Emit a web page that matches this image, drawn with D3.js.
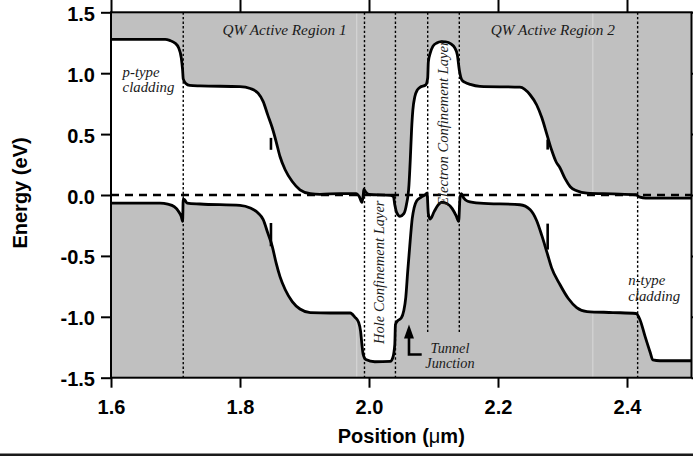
<!DOCTYPE html>
<html>
<head>
<meta charset="utf-8">
<script src="https://cdn.jsdelivr.net/npm/d3@7"></script>
<style>
  html, body { margin: 0; padding: 0; background: #fff; }
  svg { display: block; }
</style>
</head>
<body>
<script>
// Conduction band edge: position (µm) and energy (eV)
const cbPosition = [1.600,1.684,1.691,1.699,1.705,1.709,1.711,1.712,1.716,1.722,1.738,1.800,1.816,1.828,1.836,1.843,1.850,1.856,1.862,1.870,1.881,1.893,1.909,1.924,1.955,1.980,1.985,1.989,1.991,1.992,1.995,2.000,2.033,2.038,2.040,2.043,2.048,2.054,2.058,2.062,2.064,2.066,2.068,2.071,2.075,2.079,2.088,2.091,2.092,2.095,2.099,2.105,2.112,2.119,2.127,2.133,2.137,2.140,2.144,2.149,2.157,2.172,2.234,2.250,2.260,2.268,2.276,2.283,2.290,2.296,2.304,2.312,2.322,2.338,2.378,2.414,2.420,2.429,2.500];
const cbEnergy = [1.277,1.277,1.269,1.248,1.207,1.125,1.027,0.953,0.916,0.900,0.896,0.890,0.874,0.836,0.767,0.658,0.552,0.439,0.316,0.207,0.111,0.043,0.011,0.005,0.012,0.012,-0.014,-0.061,-0.006,0.049,0.023,0.004,-0.002,-0.014,-0.080,-0.145,-0.175,-0.153,-0.080,0.084,0.289,0.535,0.699,0.806,0.863,0.884,0.904,0.961,1.093,1.166,1.220,1.248,1.259,1.257,1.240,1.207,1.150,1.027,0.945,0.925,0.908,0.892,0.885,0.821,0.739,0.634,0.494,0.371,0.273,0.224,0.134,0.068,0.035,0.015,0.009,0.002,-0.018,-0.025,-0.025];

// Valence band edge: position (µm) and energy (eV)
const vbPosition = [1.600,1.676,1.688,1.698,1.704,1.709,1.711,1.712,1.714,1.718,1.738,1.800,1.816,1.828,1.836,1.843,1.850,1.856,1.862,1.870,1.881,1.893,1.909,1.940,1.971,1.978,1.984,1.987,1.989,1.991,1.995,2.009,2.033,2.037,2.040,2.041,2.045,2.050,2.054,2.057,2.060,2.064,2.067,2.070,2.074,2.081,2.087,2.090,2.092,2.095,2.101,2.107,2.113,2.121,2.129,2.135,2.139,2.141,2.143,2.147,2.153,2.172,2.234,2.250,2.260,2.268,2.276,2.283,2.296,2.309,2.322,2.338,2.378,2.414,2.420,2.428,2.436,2.440,2.451,2.500];
const vbEnergy = [-0.066,-0.067,-0.075,-0.096,-0.129,-0.178,-0.216,-0.034,-0.039,-0.066,-0.074,-0.085,-0.107,-0.148,-0.202,-0.311,-0.421,-0.557,-0.670,-0.776,-0.875,-0.936,-0.965,-0.969,-0.969,-1.002,-1.047,-1.120,-1.227,-1.309,-1.350,-1.369,-1.366,-1.334,-1.227,-1.063,-1.030,-1.010,-0.948,-0.842,-0.629,-0.366,-0.194,-0.104,-0.047,-0.018,0.002,0.015,-0.153,-0.198,-0.137,-0.084,-0.059,-0.071,-0.112,-0.170,-0.216,-0.030,0.011,-0.026,-0.051,-0.067,-0.080,-0.121,-0.211,-0.334,-0.473,-0.596,-0.735,-0.850,-0.924,-0.957,-0.965,-0.973,-1.022,-1.161,-1.293,-1.354,-1.361,-1.361];

// Quantum-well markers on each band
const markPosition = [1.848, 2.277];
const markCbTop = [0.469, 0.455];
const markCbBottom = [0.371, 0.373];
const markVbTop = [-0.230, -0.235];
const markVbBottom = [-0.421, -0.448];

// Layer boundaries (dotted) and how far down each one runs
const boundaryPosition = [1.712, 1.993, 2.041, 2.091, 2.140, 2.4165];
const boundaryBottom = [-1.5, -1.5, -1.5, -1.14, -1.14, -1.5];

// Faint seams in the shaded background
const seamPosition = [1.981, 2.347];

// Axis ticks
const xTicks = [1.6, 1.8, 2.0, 2.2, 2.4];
const yTicks = [-1.5, -1.0, -0.5, 0.0, 0.5, 1.0, 1.5];

const W = 693, H = 456;
const x = d3.scaleLinear().domain([1.6, 2.5]).range([111, 691.5]);
const y = d3.scaleLinear().domain([-1.5, 1.5]).range([377.7, 12.3]);

const svg = d3.select("body").append("svg")
  .attr("width", W).attr("height", H);

svg.append("rect").attr("width", W).attr("height", H).attr("fill", "#fff");

// Shaded plot area (the bands)
svg.append("rect")
  .attr("x", x(1.6)).attr("y", y(1.5))
  .attr("width", x(2.5) - x(1.6)).attr("height", y(-1.5) - y(1.5))
  .attr("fill", "#c0c0c0");

svg.selectAll("line.seam").data(seamPosition).enter().append("line")
  .attr("class", "seam")
  .attr("x1", d => x(d)).attr("x2", d => x(d))
  .attr("y1", y(1.5)).attr("y2", y(-1.5))
  .attr("stroke", "#d8d8d8").attr("stroke-width", 1);

const cb = cbPosition.map((p, i) => [p, cbEnergy[i]]);
const vb = vbPosition.map((p, i) => [p, vbEnergy[i]]);

// White band gap between the two band edges
const gapPoly = cb.concat(vb.slice().reverse());
svg.append("path")
  .attr("d", d3.line().x(d => x(d[0])).y(d => y(d[1]))(gapPoly) + "Z")
  .attr("fill", "#fff");

// Fermi level
svg.append("line")
  .attr("x1", x(1.6)).attr("x2", x(2.5))
  .attr("y1", y(0)).attr("y2", y(0))
  .attr("stroke", "#000").attr("stroke-width", 2.6)
  .attr("stroke-dasharray", "8,6");

// Layer boundaries
svg.selectAll("line.boundary").data(boundaryPosition).enter().append("line")
  .attr("class", "boundary")
  .attr("x1", d => x(d)).attr("x2", d => x(d))
  .attr("y1", y(1.5))
  .attr("y2", (d, i) => y(boundaryBottom[i]))
  .attr("stroke", "#000").attr("stroke-width", 1.4)
  .attr("stroke-dasharray", "2.4,2.2");

// Band edges
const bandLine = d3.line().x(d => x(d[0])).y(d => y(d[1])).curve(d3.curveMonotoneX);
[cb, vb].forEach(band => {
  svg.append("path")
    .attr("d", bandLine(band))
    .attr("fill", "none")
    .attr("stroke", "#000")
    .attr("stroke-width", 2.8)
    .attr("stroke-linejoin", "round");
});

// Quantum-well markers
markPosition.forEach((p, i) => {
  [[markCbTop[i], markCbBottom[i]], [markVbTop[i], markVbBottom[i]]].forEach(r => {
    svg.append("line")
      .attr("x1", x(p)).attr("x2", x(p))
      .attr("y1", y(r[0])).attr("y2", y(r[1]))
      .attr("stroke", "#000").attr("stroke-width", 2.6);
  });
});

// Annotations
const serif = "'Liberation Serif', 'Times New Roman', serif";
function note(text, px, e, anchor, size, rotate) {
  const t = svg.append("text")
    .attr("font-family", serif)
    .attr("font-style", "italic")
    .attr("font-size", size)
    .attr("fill", "#1a1a1a")
    .attr("text-anchor", anchor)
    .text(text);
  if (rotate) t.attr("transform", `translate(${x(px)},${y(e)}) rotate(-90)`);
  else t.attr("x", x(px)).attr("y", y(e));
}
note("QW Active Region 1", 1.869, 1.314, "middle", 15.3);
note("QW Active Region 2", 2.285, 1.314, "middle", 15.3);
note("p-type", 1.618, 0.972, "start", 14.8);
note("cladding", 1.618, 0.849, "start", 14.8);
note("n-type", 2.402, -0.735, "start", 14.8);
note("cladding", 2.402, -0.872, "start", 14.8);
note("Tunnel", 2.1255, -1.295, "middle", 14.3);
note("Junction", 2.1255, -1.418, "middle", 14.3);
note("Hole Confinement Layer", 2.0225, -0.634, "middle", 14.5, true);
note("Electron Confinement Layer", 2.1225, 0.590, "middle", 14.6, true);

// Tunnel junction pointer
const arrowX = 2.062, arrowTip = -1.063, arrowBase = -1.17, arrowCorner = -1.309, arrowEnd = 2.0817;
svg.append("path")
  .attr("d", `M${x(arrowX)},${y(arrowBase)} L${x(arrowX)},${y(arrowCorner)} L${x(arrowEnd)},${y(arrowCorner)}`)
  .attr("fill", "none").attr("stroke", "#000").attr("stroke-width", 2.6);
svg.append("path")
  .attr("d", `M${x(arrowX)},${y(arrowTip)} L${x(arrowX) - 5},${y(arrowBase) + 1} L${x(arrowX) + 5},${y(arrowBase) + 1} Z`)
  .attr("fill", "#000");

// Axes
const sans = "'Liberation Sans', Arial, Helvetica, sans-serif";
function styleAxis(g) {
  g.select(".domain").remove();
  g.selectAll(".tick line").attr("stroke", "#000").attr("stroke-width", 2);
  g.selectAll(".tick text")
    .attr("font-family", sans).attr("font-weight", "bold")
    .attr("font-size", 20).attr("fill", "#000");
}
const fmt = d => d.toFixed(1);

svg.append("g").attr("transform", `translate(0,${y(-1.5)})`)
  .call(d3.axisBottom(x).tickValues(xTicks).tickSize(10).tickPadding(12).tickFormat(fmt))
  .call(styleAxis);
svg.append("g").attr("transform", `translate(0,${y(1.5)})`)
  .call(d3.axisTop(x).tickValues(xTicks).tickSize(13).tickFormat(""))
  .call(styleAxis);
const gy = svg.append("g").attr("transform", `translate(${x(1.6)},0)`)
  .call(d3.axisLeft(y).tickValues(yTicks).tickSize(10).tickPadding(6).tickFormat(fmt))
  .call(styleAxis);
gy.selectAll(".tick text").attr("dy", "0.4em");
svg.append("g").attr("transform", `translate(${x(2.5)},0)`)
  .call(d3.axisRight(y).tickValues(yTicks).tickSize(10).tickFormat(""))
  .call(styleAxis);

// Frame
svg.append("rect")
  .attr("x", x(1.6)).attr("y", y(1.5))
  .attr("width", x(2.5) - x(1.6)).attr("height", y(-1.5) - y(1.5))
  .attr("fill", "none").attr("stroke", "#000").attr("stroke-width", 2);

// Axis titles
const xTitle = svg.append("text")
  .attr("x", (x(1.6) + x(2.5)) / 2).attr("y", 443)
  .attr("text-anchor", "middle")
  .attr("font-family", sans).attr("font-weight", "bold").attr("font-size", 20);
xTitle.append("tspan").text("Position (");
xTitle.append("tspan").attr("font-weight", "normal").text("\u03bc");
xTitle.append("tspan").text("m)");

svg.append("text")
  .attr("transform", `translate(27,${y(0) - 2}) rotate(-90)`)
  .attr("text-anchor", "middle")
  .attr("font-family", sans).attr("font-weight", "bold").attr("font-size", 20)
  .text("Energy (eV)");

// Bottom rule
svg.append("rect").attr("x", 0).attr("y", 453.5).attr("width", W).attr("height", 2.5).attr("fill", "#1a1a1a");
</script>
</body>
</html>
